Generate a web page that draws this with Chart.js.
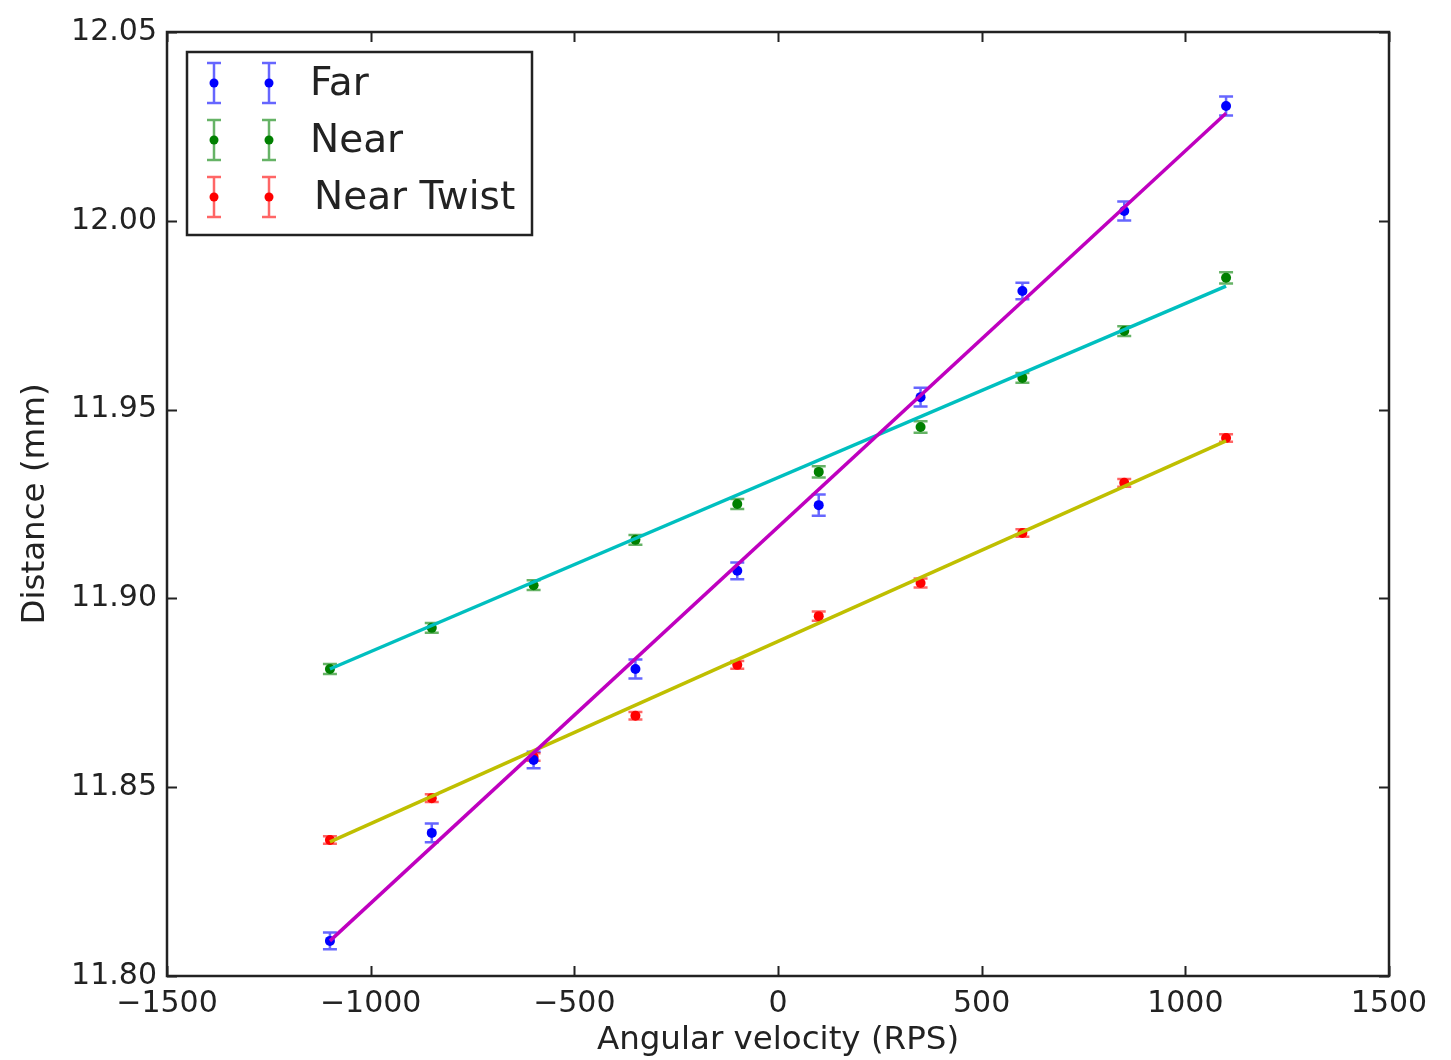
<!DOCTYPE html>
<html>
<head>
<meta charset="utf-8">
<script src="https://cdn.jsdelivr.net/npm/chart.js@4.4.0/dist/chart.umd.min.js"></script>
<style>
  html, body { margin: 0; padding: 0; background: #ffffff; }
  #wrap { width: 1451px; height: 1060px; position: relative; }
</style>
</head>
<body>
<div id="wrap"><canvas id="chart" width="1451" height="1060"></canvas></div>
<script>
// angular velocity samples (RPS)
const speeds = [-1100, -850, -600, -350, -100, 100, 350, 600, 850, 1100];

// measured distances (mm)
const farValues = [11.8093, 11.8379, 11.8572, 11.8813, 11.9073, 11.9247, 11.9533, 11.9814, 12.0026, 12.0304];
const nearValues = [11.8813, 11.8922, 11.9035, 11.9155, 11.925, 11.9335, 11.9454, 11.9584, 11.9708, 11.9849];
const twistValues = [11.836, 11.8471, 11.858, 11.8689, 11.8824, 11.8953, 11.9041, 11.9173, 11.9306, 11.9425];

// error bar half-heights (mm)
const farErrors = [0.0022, 0.0025, 0.0022, 0.0025, 0.0022, 0.0028, 0.0025, 0.0022, 0.0025, 0.0025];
const nearErrors = [0.0013, 0.0013, 0.0013, 0.0013, 0.0013, 0.0015, 0.0015, 0.0013, 0.0013, 0.0015];
const twistErrors = [0.001, 0.001, 0.001, 0.001, 0.001, 0.0012, 0.0012, 0.001, 0.001, 0.001];

// linear fits, end points
const fitX = [-1100, 1100];
const farFit = [11.8093, 12.0285];
const nearFit = [11.8813, 11.9827];
const twistFit = [11.8355, 11.9417];

// axis ticks
const xTicks = [-1500, -1000, -500, 0, 500, 1000, 1500];
const yTicks = [11.80, 11.85, 11.90, 11.95, 12.00, 12.05];

const seriesNames = ['Far', 'Near', 'Near Twist'];
const seriesColors = ['#0000ff', '#008000', '#ff0000'];
const errColors = ['rgba(0,0,255,0.6)', 'rgba(0,128,0,0.6)', 'rgba(255,0,0,0.6)'];

const FONT = "'DejaVu Sans', sans-serif";
const INK = '#222222';

function pts(xs, ys) {
    return xs.map((x, i) => ({ x: x, y: ys[i] }));
}

// error bars drawn under the markers
const errorBars = {
    id: 'errorBars',
    beforeDatasetsDraw(chart) {
        const ctx = chart.ctx;
        const xs = chart.scales.x, ys = chart.scales.y;
        const sets = [[farValues, farErrors], [nearValues, nearErrors], [twistValues, twistErrors]];
        ctx.save();
        sets.forEach((s, k) => {
            ctx.strokeStyle = errColors[k];
            ctx.lineWidth = 2.5;
            speeds.forEach((v, i) => {
                const px = xs.getPixelForValue(v);
                const top = ys.getPixelForValue(s[0][i] + s[1][i]);
                const bot = ys.getPixelForValue(s[0][i] - s[1][i]);
                ctx.beginPath();
                ctx.moveTo(px, top); ctx.lineTo(px, bot);
                ctx.moveTo(px - 7, top); ctx.lineTo(px + 7, top);
                ctx.moveTo(px - 7, bot); ctx.lineTo(px + 7, bot);
                ctx.stroke();
            });
        });
        ctx.restore();
    }
};

// matplotlib-style frame with inward ticks on all sides, plus legend
const frame = {
    id: 'frame',
    afterDraw(chart) {
        const ctx = chart.ctx;
        const a = chart.chartArea;
        const xs = chart.scales.x, ys = chart.scales.y;
        ctx.save();
        ctx.strokeStyle = INK;
        ctx.lineWidth = 2;
        ctx.beginPath();
        xTicks.forEach(v => {
            const px = Math.round(xs.getPixelForValue(v)) + 0.5;
            ctx.moveTo(px, a.bottom); ctx.lineTo(px, a.bottom - 10);
            ctx.moveTo(px, a.top); ctx.lineTo(px, a.top + 10);
        });
        yTicks.forEach(v => {
            const py = Math.round(ys.getPixelForValue(v)) + 0.5;
            ctx.moveTo(a.left, py); ctx.lineTo(a.left + 10, py);
            ctx.moveTo(a.right, py); ctx.lineTo(a.right - 10, py);
        });
        ctx.stroke();
        ctx.lineWidth = 2.5;
        ctx.strokeRect(a.left, a.top, a.right - a.left, a.bottom - a.top);

        // legend
        const lx = 187, ly = 52, lw = 345, lh = 183;
        ctx.fillStyle = '#ffffff';
        ctx.fillRect(lx, ly, lw, lh);
        ctx.strokeStyle = INK;
        ctx.lineWidth = 2.5;
        ctx.strokeRect(lx, ly, lw, lh);
        const rows = [83, 140, 197];
        rows.forEach((ry, k) => {
            [214, 269].forEach(mx => {
                ctx.strokeStyle = errColors[k];
                ctx.lineWidth = 2.5;
                ctx.beginPath();
                ctx.moveTo(mx, ry - 20); ctx.lineTo(mx, ry + 20);
                ctx.moveTo(mx - 7, ry - 20); ctx.lineTo(mx + 7, ry - 20);
                ctx.moveTo(mx - 7, ry + 20); ctx.lineTo(mx + 7, ry + 20);
                ctx.stroke();
                ctx.fillStyle = seriesColors[k];
                ctx.beginPath();
                ctx.arc(mx, ry, 4.5, 0, Math.PI * 2);
                ctx.fill();
            });
            ctx.fillStyle = INK;
            ctx.font = '39px ' + FONT;
            ctx.textBaseline = 'middle';
            ctx.textAlign = 'left';
            ctx.fillText(seriesNames[k], k === 2 ? 314 : 310, ry + 2);
        });
        ctx.restore();
    }
};

function scatterSet(label, values, k) {
    return {
        type: 'scatter',
        label: label,
        data: pts(speeds, values),
        backgroundColor: seriesColors[k],
        borderColor: seriesColors[k],
        pointRadius: 5,
        pointBorderWidth: 0,
        order: 2
    };
}

function fitSet(values, color) {
    return {
        type: 'line',
        data: pts(fitX, values),
        borderColor: color,
        borderWidth: 3.5,
        pointRadius: 0,
        fill: false,
        tension: 0,
        order: 1
    };
}

new Chart(document.getElementById('chart'), {
    data: {
        datasets: [
            scatterSet('Far', farValues, 0),
            scatterSet('Near', nearValues, 1),
            scatterSet('Near Twist', twistValues, 2),
            fitSet(farFit, '#bf00bf'),
            fitSet(nearFit, '#00bfbf'),
            fitSet(twistFit, '#bfbf00')
        ]
    },
    options: {
        responsive: false,
        animation: false,
        layout: { padding: { top: 32, right: 62, left: 0, bottom: 0 } },
        plugins: {
            legend: { display: false },
            tooltip: { enabled: false }
        },
        scales: {
            x: {
                type: 'linear',
                min: -1500,
                max: 1500,
                afterBuildTicks: axis => { axis.ticks = xTicks.map(v => ({ value: v })); },
                afterFit: axis => { axis.height = 84; },
                grid: { display: false, drawTicks: false },
                border: { display: false },
                ticks: {
                    color: INK,
                    font: { family: FONT, size: 30 },
                    padding: 10,
                    maxRotation: 0,
                    callback: v => String(v).replace('-', '\u2212')
                },
                title: {
                    display: true,
                    text: 'Angular velocity (RPS)',
                    color: INK,
                    font: { family: FONT, size: 32.5 },
                    padding: { top: 0, bottom: 0 }
                }
            },
            y: {
                type: 'linear',
                min: 11.80,
                max: 12.05,
                afterBuildTicks: axis => { axis.ticks = yTicks.map(v => ({ value: v })); },
                afterFit: axis => { axis.width = 167; },
                grid: { display: false, drawTicks: false },
                border: { display: false },
                ticks: {
                    color: INK,
                    font: { family: FONT, size: 30 },
                    padding: 10,
                    callback: v => v.toFixed(2)
                },
                title: {
                    display: true,
                    text: 'Distance (mm)',
                    color: INK,
                    font: { family: FONT, size: 32.5 },
                    padding: { top: 16, bottom: 0 }
                }
            }
        }
    },
    plugins: [errorBars, frame]
});
</script>
</body>
</html>
